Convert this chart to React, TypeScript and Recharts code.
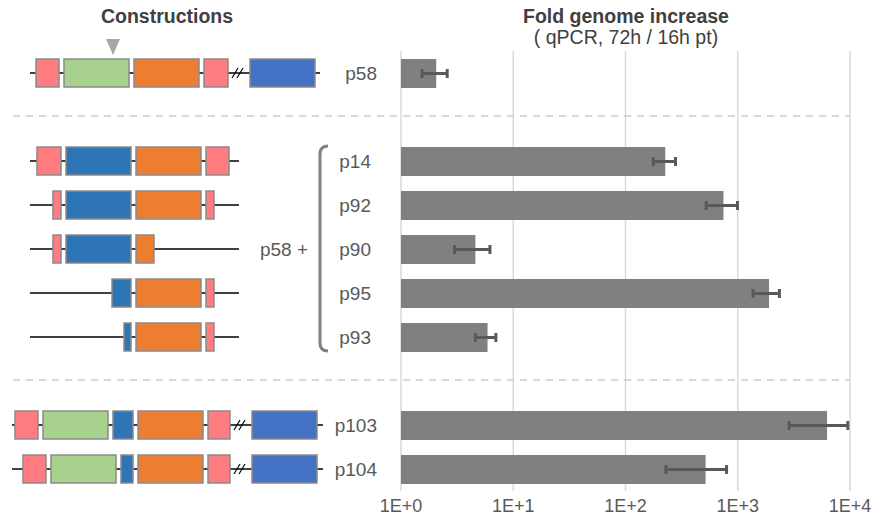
import { BarChart, Bar, XAxis, YAxis, CartesianGrid, ErrorBar } from 'recharts'

// rows top to bottom; gap rows hold the dashed separators
const rowNames = ['p58', 'gap1', 'p14', 'p92', 'p90', 'p95', 'p93', 'gap2', 'p103', 'p104']
const foldIncrease = [2.06, null, 226, 746, 4.6, 1900, 5.9, null, 6250, 517]
const errLow = [1.54, null, 177, 523, 3.0, 1370, 4.6, null, 2870, 229]
const errHigh = [2.58, null, 279, 994, 6.2, 2350, 7.0, null, 9560, 795]
const bracketRows = ['p14', 'p92', 'p90', 'p95', 'p93']

const xTicks = [1, 10, 100, 1000, 10000]
const xTickLabels = ['1E+0', '1E+1', '1E+2', '1E+3', '1E+4']

const data = rowNames.map((name, i) => {
  const v = foldIncrease[i]
  return {
    name,
    fold: v,
    err: v == null ? null : [v - (errLow[i] as number), (errHigh[i] as number) - v],
  }
})

const FONT = '"Liberation Sans", Arial, Helvetica, sans-serif'

const partColors: Record<string, string> = {
  pink: '#ff7c80',
  green: '#a9d18e',
  orange: '#ed7d31',
  blue: '#2e75b6',
  blue2: '#4472c4',
}

type Part = [string, number, number]
interface Construct {
  line: [number, number]
  parts: Part[]
  breakAt?: number
}

// schematic drawings of the constructs (x extents in px)
const constructs: Record<string, Construct> = {
  p58: {
    line: [30, 320],
    parts: [['pink', 36, 59], ['green', 64, 129], ['orange', 134, 199], ['pink', 204, 228], ['blue2', 250, 315]],
    breakAt: 238,
  },
  p14: { line: [30, 239], parts: [['pink', 37, 61], ['blue', 66, 131], ['orange', 136, 201], ['pink', 206, 229]] },
  p92: { line: [30, 239], parts: [['pink', 53, 61], ['blue', 66, 131], ['orange', 136, 201], ['pink', 206, 214]] },
  p90: { line: [30, 239], parts: [['pink', 53, 61], ['blue', 66, 131], ['orange', 136, 154]] },
  p95: { line: [30, 239], parts: [['blue', 112, 131], ['orange', 136, 201], ['pink', 206, 214]] },
  p93: { line: [30, 239], parts: [['blue', 124, 131], ['orange', 136, 201], ['pink', 206, 214]] },
  p103: {
    line: [12, 323],
    parts: [['pink', 15, 38], ['green', 43, 108], ['blue', 113, 133], ['orange', 138, 203], ['pink', 208, 230], ['blue2', 252, 317]],
    breakAt: 240,
  },
  p104: {
    line: [12, 323],
    parts: [['pink', 23, 46], ['green', 51, 116], ['blue', 121, 133], ['orange', 138, 203], ['pink', 208, 230], ['blue2', 252, 317]],
    breakAt: 240,
  },
}

function ConstructTick(props: any) {
  const { y, payload } = props
  const name: string = payload.value

  if (name.startsWith('gap')) {
    return (
      <line x1={13} x2={850} y1={y - 1} y2={y - 1} stroke="#cccccc" strokeWidth={1.5} strokeDasharray="7 6" />
    )
  }

  const c = constructs[name]
  const inBracket = bracketRows.includes(name)
  const bi = bracketRows.indexOf(name)
  const bx = 320

  return (
    <g>
      <line x1={c.line[0]} x2={c.line[1]} y1={y} y2={y} stroke="#000" strokeWidth={1.5} />
      {c.parts.map(([kind, x0, x1], i) => (
        <rect
          key={i}
          x={x0}
          y={y - 14}
          width={x1 - x0}
          height={28}
          fill={partColors[kind]}
          stroke="#8a8a8a"
          strokeWidth={1.5}
        />
      ))}
      {c.breakAt != null && (
        <g stroke="#000" strokeWidth={1.2}>
          <line x1={c.breakAt - 6} y1={y + 5} x2={c.breakAt} y2={y - 5} />
          <line x1={c.breakAt - 1} y1={y + 5} x2={c.breakAt + 5} y2={y - 5} />
        </g>
      )}
      {name === 'p58' && (
        <polygon points={`106,${y - 34} 120,${y - 34} 113,${y - 18}`} fill="#a6a6a6" />
      )}
      {inBracket && bi === 0 && (
        <path d={`M ${bx + 8} ${y - 15} Q ${bx} ${y - 15} ${bx} ${y - 7} L ${bx} ${y + 22}`} fill="none" stroke="#808080" strokeWidth={3} />
      )}
      {inBracket && bi > 0 && bi < bracketRows.length - 1 && (
        <line x1={bx} x2={bx} y1={y - 22} y2={y + 22} stroke="#808080" strokeWidth={3} />
      )}
      {inBracket && bi === bracketRows.length - 1 && (
        <path d={`M ${bx} ${y - 22} L ${bx} ${y + 6} Q ${bx} ${y + 14} ${bx + 8} ${y + 14}`} fill="none" stroke="#808080" strokeWidth={3} />
      )}
      {name === 'p90' && (
        <text x={308} y={y} dy="0.35em" textAnchor="end" fontSize={19} fill="#595959" fontFamily={FONT}>
          p58 +
        </text>
      )}
      <text
        x={inBracket ? 371 : 377}
        y={y}
        dy="0.35em"
        textAnchor="end"
        fontSize={19}
        fill="#595959"
        fontFamily={FONT}
      >
        {name}
      </text>
    </g>
  )
}

export default function App() {
  return (
    <div style={{ position: 'absolute', left: 0, top: 0, width: 874, height: 520, fontFamily: FONT, background: '#fff' }}>
      <div style={{ position: 'absolute', left: 67, top: 6, width: 200, textAlign: 'center', fontSize: 19.5, lineHeight: '21px', fontWeight: 'bold', color: '#404040' }}>
        Constructions
      </div>
      <div style={{ position: 'absolute', left: 476, top: 6, width: 300, textAlign: 'center', fontSize: 19.5, color: '#404040', lineHeight: '21px' }}>
        <div style={{ fontWeight: 'bold' }}>Fold genome increase</div>
        <div>( qPCR, 72h / 16h pt)</div>
      </div>
      <BarChart
        width={874}
        height={520}
        data={data}
        layout="vertical"
        margin={{ top: 51, right: 24, left: 0, bottom: 0 }}
        barCategoryGap={0}
      >
        <CartesianGrid horizontal={false} stroke="#d9d9d9" strokeWidth={1.5} />
        <XAxis
          type="number"
          scale="log"
          domain={[1, 10000]}
          ticks={xTicks}
          allowDataOverflow
          tickFormatter={(v: number, i: number) => xTickLabels[i]}
          axisLine={false}
          tickLine={false}
          height={29}
          tick={{ fontSize: 18, fill: '#595959', fontFamily: FONT }}
        />
        <YAxis
          type="category"
          dataKey="name"
          width={401}
          interval={0}
          axisLine={false}
          tickLine={false}
          tick={<ConstructTick />}
        />
        <Bar dataKey="fold" fill="#808080" barSize={29} isAnimationActive={false}>
          <ErrorBar dataKey="err" direction="x" stroke="#595959" strokeWidth={3} width={4.5} isAnimationActive={false} />
        </Bar>
      </BarChart>
    </div>
  )
}
